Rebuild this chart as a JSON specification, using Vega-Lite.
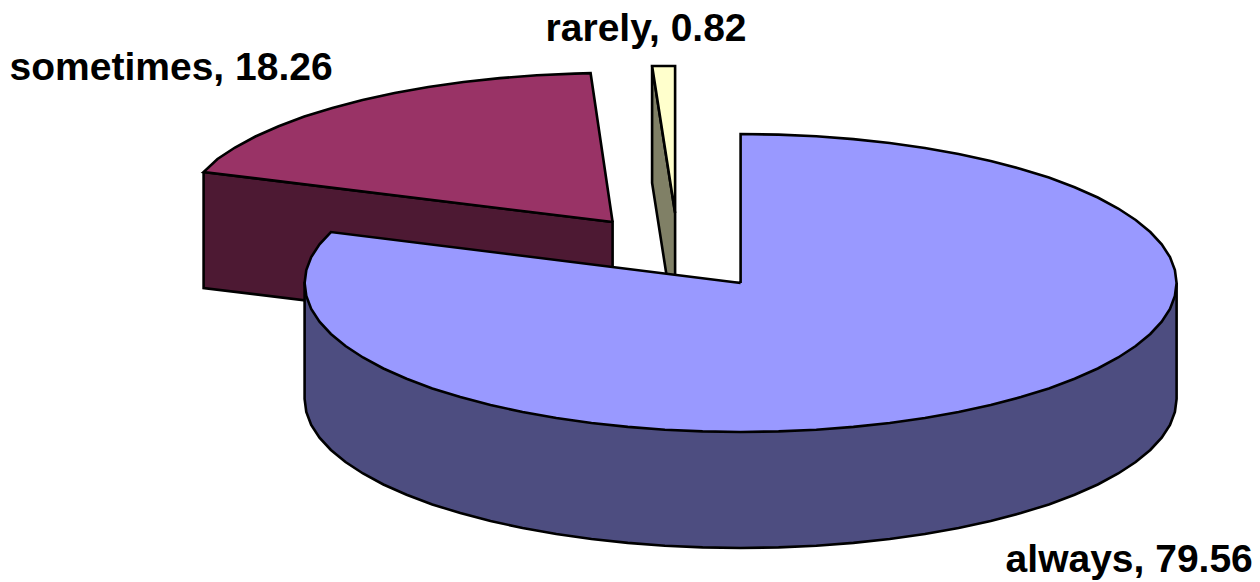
{"$schema":"https://vega.github.io/schema/vega-lite/v6.json","width":1260,"height":582,"padding":0,"autosize":{"type":"fit","contains":"padding"},"background":"#ffffff","config":{"view":{"stroke":null}},
"datasets":{
"maroonSide":[{"s":0,"x":203,"y":172},{"s":1,"x":612,"y":222},{"s":2,"x":612,"y":338},{"s":3,"x":203,"y":288},{"s":4,"x":203,"y":172}],
"maroonTop":[{"s":0,"x":612,"y":222},{"s":1,"x":203,"y":172},{"s":2,"x":216.9,"y":159},{"s":3,"x":234.4,"y":147.5},{"s":4,"x":254.8,"y":136.5},{"s":5,"x":278,"y":126.2},{"s":6,"x":303.7,"y":116.6},{"s":7,"x":331.7,"y":107.9},{"s":8,"x":361.9,"y":99.9},{"s":9,"x":394,"y":93},{"s":10,"x":427.7,"y":87},{"s":11,"x":462.9,"y":82},{"s":12,"x":499.2,"y":78.1},{"s":13,"x":536.3,"y":75.3},{"s":14,"x":574,"y":73.6},{"s":15,"x":590,"y":73.2},{"s":16,"x":612,"y":222}],
"yellowSide":[{"s":0,"x":651.5,"y":66},{"s":1,"x":674.5,"y":213},{"s":2,"x":674.5,"y":330},{"s":3,"x":651.5,"y":183},{"s":4,"x":651.5,"y":66}],
"yellowTop":[{"s":0,"x":674.5,"y":213},{"s":1,"x":651.5,"y":66},{"s":2,"x":674.5,"y":66},{"s":3,"x":674.5,"y":213}],
"blueSide":[{"s":0,"x":1176,"y":283},{"s":1,"x":1176,"y":399},{"s":2,"x":1174.3,"y":412},{"s":3,"x":1169.4,"y":424.9},{"s":4,"x":1161.1,"y":437.6},{"s":5,"x":1149.7,"y":450},{"s":6,"x":1135.1,"y":462},{"s":7,"x":1117.6,"y":473.5},{"s":8,"x":1097.2,"y":484.5},{"s":9,"x":1074,"y":494.8},{"s":10,"x":1048.3,"y":504.4},{"s":11,"x":1020.3,"y":513.1},{"s":12,"x":990.1,"y":521.1},{"s":13,"x":958,"y":528},{"s":14,"x":924.3,"y":534},{"s":15,"x":889.1,"y":539},{"s":16,"x":852.8,"y":542.9},{"s":17,"x":815.7,"y":545.7},{"s":18,"x":778,"y":547.4},{"s":19,"x":740,"y":548},{"s":20,"x":702,"y":547.4},{"s":21,"x":664.3,"y":545.7},{"s":22,"x":627.2,"y":542.9},{"s":23,"x":590.9,"y":539},{"s":24,"x":555.7,"y":534},{"s":25,"x":522,"y":528},{"s":26,"x":489.9,"y":521.1},{"s":27,"x":459.7,"y":513.1},{"s":28,"x":431.7,"y":504.4},{"s":29,"x":406,"y":494.8},{"s":30,"x":382.8,"y":484.5},{"s":31,"x":362.4,"y":473.5},{"s":32,"x":344.9,"y":462},{"s":33,"x":330.3,"y":450},{"s":34,"x":318.9,"y":437.6},{"s":35,"x":310.6,"y":424.9},{"s":36,"x":305.7,"y":412},{"s":37,"x":304,"y":399},{"s":38,"x":304,"y":283},{"s":39,"x":1176,"y":283}],
"blueTop":[{"s":0,"x":740,"y":283},{"s":1,"x":740,"y":134},{"s":2,"x":778,"y":134.6},{"s":3,"x":815.7,"y":136.3},{"s":4,"x":852.8,"y":139.1},{"s":5,"x":889.1,"y":143},{"s":6,"x":924.3,"y":148},{"s":7,"x":958,"y":154},{"s":8,"x":990.1,"y":160.9},{"s":9,"x":1020.3,"y":168.9},{"s":10,"x":1048.3,"y":177.6},{"s":11,"x":1074,"y":187.2},{"s":12,"x":1097.2,"y":197.5},{"s":13,"x":1117.6,"y":208.5},{"s":14,"x":1135.1,"y":220},{"s":15,"x":1149.7,"y":232},{"s":16,"x":1161.1,"y":244.4},{"s":17,"x":1169.4,"y":257.1},{"s":18,"x":1174.3,"y":270},{"s":19,"x":1176,"y":283},{"s":20,"x":1174.3,"y":296},{"s":21,"x":1169.4,"y":308.9},{"s":22,"x":1161.1,"y":321.6},{"s":23,"x":1149.7,"y":334},{"s":24,"x":1135.1,"y":346},{"s":25,"x":1117.6,"y":357.5},{"s":26,"x":1097.2,"y":368.5},{"s":27,"x":1074,"y":378.8},{"s":28,"x":1048.3,"y":388.4},{"s":29,"x":1020.3,"y":397.1},{"s":30,"x":990.1,"y":405.1},{"s":31,"x":958,"y":412},{"s":32,"x":924.3,"y":418},{"s":33,"x":889.1,"y":423},{"s":34,"x":852.8,"y":426.9},{"s":35,"x":815.7,"y":429.7},{"s":36,"x":778,"y":431.4},{"s":37,"x":740,"y":432},{"s":38,"x":702,"y":431.4},{"s":39,"x":664.3,"y":429.7},{"s":40,"x":627.2,"y":426.9},{"s":41,"x":590.9,"y":423},{"s":42,"x":555.7,"y":418},{"s":43,"x":522,"y":412},{"s":44,"x":489.9,"y":405.1},{"s":45,"x":459.7,"y":397.1},{"s":46,"x":431.7,"y":388.4},{"s":47,"x":406,"y":378.8},{"s":48,"x":382.8,"y":368.5},{"s":49,"x":362.4,"y":357.5},{"s":50,"x":344.9,"y":346},{"s":51,"x":330.3,"y":334},{"s":52,"x":318.9,"y":321.6},{"s":53,"x":310.6,"y":308.9},{"s":54,"x":305.7,"y":296},{"s":55,"x":304,"y":283},{"s":56,"x":305.7,"y":270},{"s":57,"x":310.6,"y":257.1},{"s":58,"x":318.9,"y":244.4},{"s":59,"x":330.3,"y":232},{"s":60,"x":740,"y":283}],
"labels":[{"category":"always","value":79.56,"label":"always, 79.56","x":1005,"y":572},{"category":"sometimes","value":18.26,"label":"sometimes, 18.26","x":9,"y":80},{"category":"rarely","value":0.82,"label":"rarely, 0.82","x":545,"y":41}]
},
"encoding":{"x":{"field":"x","type":"quantitative","scale":{"domain":[-0.6,1259.4],"nice":false,"zero":false},"axis":null},"y":{"field":"y","type":"quantitative","scale":{"domain":[582,0],"nice":false,"zero":false},"axis":null}},
"layer":[
{"data":{"name":"maroonSide"},"mark":{"type":"line","fill":"#4D1933","stroke":"#000000","strokeWidth":2.6},"encoding":{"order":{"field":"s","type":"quantitative"}}},
{"data":{"name":"maroonTop"},"mark":{"type":"line","fill":"#993366","stroke":"#000000","strokeWidth":2.6},"encoding":{"order":{"field":"s","type":"quantitative"}}},
{"data":{"name":"yellowSide"},"mark":{"type":"line","fill":"#808066","stroke":"#000000","strokeWidth":2.6},"encoding":{"order":{"field":"s","type":"quantitative"}}},
{"data":{"name":"yellowTop"},"mark":{"type":"line","fill":"#FFFFCC","stroke":"#000000","strokeWidth":2.6},"encoding":{"order":{"field":"s","type":"quantitative"}}},
{"data":{"name":"blueSide"},"mark":{"type":"line","fill":"#4D4D80","stroke":"#000000","strokeWidth":2.6},"encoding":{"order":{"field":"s","type":"quantitative"}}},
{"data":{"name":"blueTop"},"mark":{"type":"line","fill":"#9999FF","stroke":"#000000","strokeWidth":2.6},"encoding":{"order":{"field":"s","type":"quantitative"}}},
{"data":{"name":"labels"},"mark":{"type":"text","align":"left","baseline":"alphabetic","font":"Liberation Sans","fontWeight":"bold","fontSize":39,"fill":"#000000"},"encoding":{"text":{"field":"label","type":"nominal"}}}
]}
